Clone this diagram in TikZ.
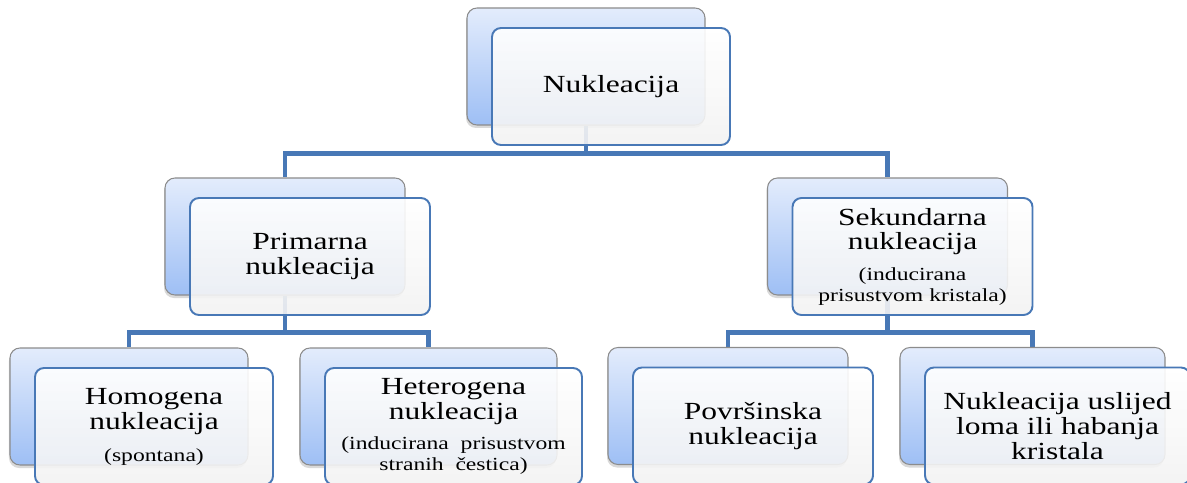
\documentclass[tikz,border=0pt]{standalone}
\usepackage{fontspec}
\setmainfont{Liberation Serif}[FakeStretch=1.28]
\usetikzlibrary{shadows,backgrounds}
\definecolor{linkblue}{RGB}{72,120,182}
\definecolor{cardtop}{RGB}{227,236,252}
\definecolor{cardbot}{RGB}{158,191,245}
\definecolor{cardline}{RGB}{140,140,140}
\newcommand{\subtxt}{\fontsize{10.5}{11.5}\selectfont}
\begin{document}
\begin{tikzpicture}[x=0.2mm, y=-0.2mm,
		back/.style={draw=cardline, line width=0.6pt, rounded corners=2mm, top color=cardtop, bottom color=cardbot, minimum height=23.4mm, drop shadow={opacity=0.3, shadow xshift=-0.2mm, shadow yshift=-0.6mm}},
		front/.style={draw=linkblue, line width=1.1pt, rounded corners=1.8mm, top color=white, bottom color=black!5, fill opacity=0.9, text opacity=1, minimum height=23.4mm, xshift=5mm, yshift=-4mm, align=center, font=\fontsize{14}{14.2}\selectfont},
		link/.style={draw=linkblue, line width=2.8pt}]

		\useasboundingbox (0,0) rectangle (1187,483);

		\node[back, minimum width=47.6mm] (nuk-b) at (586,66.5) {};
		\node[front, minimum width=47.6mm] (nuk) at (nuk-b) {Nukleacija};

		\node[back, minimum width=48mm] (pri-b) at (285,236.5) {};
		\node[front, minimum width=48mm] (pri) at (pri-b) {Primarna\\nukleacija};
		\node[back, minimum width=48mm] (sek-b) at (887.5,236.5) {};
		\node[front, minimum width=48mm] (sek) at (sek-b) {Sekundarna\\nukleacija\\[3pt]{\subtxt (inducirana}\\[-2.3pt]{\subtxt prisustvom kristala)}};

		\node[back, minimum width=47.6mm] (hom-b) at (129,406.5) {};
		\node[front, minimum width=47.6mm] (hom) at (hom-b) {Homogena\\nukleacija\\[4pt]{\subtxt (spontana)}};
		\node[back, minimum width=51.4mm] (het-b) at (428.5,406.5) {};
		\node[front, minimum width=51.4mm] (het) at (het-b) {Heterogena\\nukleacija\\[3pt]{\subtxt (inducirana\ \ prisustvom}\\[-2.3pt]{\subtxt stranih\ \ čestica)}};
		\node[back, minimum width=48mm] (pov-b) at (728,406) {};
		\node[front, minimum width=48mm] (pov) at (pov-b) {Površinska\\nukleacija};
		\node[back, minimum width=53mm] (usl-b) at (1032.5,406) {};
		\node[front, minimum width=53mm] (usl) at (usl-b) {Nukleacija uslijed\\loma ili habanja\\kristala};

		\begin{scope}[on background layer]
		\draw[link] (nuk-b.south) -- ++(0,28) -| (pri-b.north);
		\draw[link] (nuk-b.south) -- ++(0,28) -| (sek-b.north);
		\draw[link] (pri-b.south) -- ++(0,37) -| (hom-b.north);
		\draw[link] (pri-b.south) -- ++(0,37) -| (het-b.north);
		\draw[link] (sek-b.south) -- ++(0,37) -| (pov-b.north);
		\draw[link] (sek-b.south) -- ++(0,37) -| (usl-b.north);
		\end{scope}

	\end{tikzpicture}
\end{document}
